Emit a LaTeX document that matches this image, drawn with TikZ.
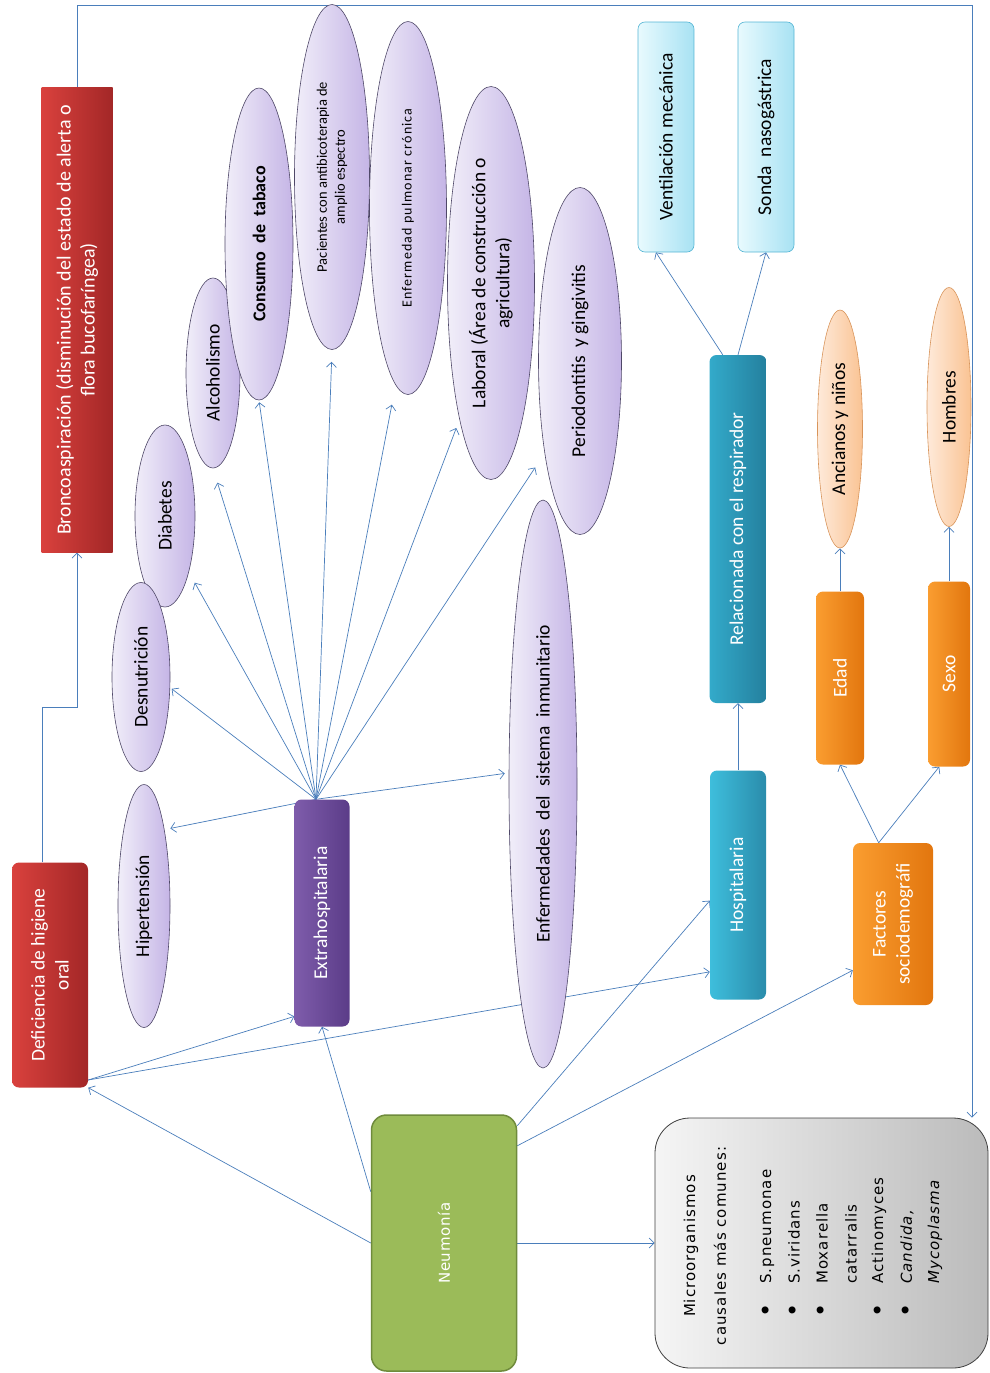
\documentclass[tikz,border=0pt]{standalone}
\usepackage{fontspec}
\setmainfont{Carlito}
\newfontfamily\verd{DejaVu Sans}
\usetikzlibrary{shapes.geometric,arrows.meta,backgrounds,calc}
\definecolor{lavL}{HTML}{F1EEF9}
\definecolor{lavR}{HTML}{C5B5E6}
\definecolor{lavB}{HTML}{4F4868}
\definecolor{redL}{HTML}{D9413D}
\definecolor{redR}{HTML}{A32727}
\definecolor{purL}{HTML}{7E5CAB}
\definecolor{purR}{HTML}{5B3C88}
\definecolor{grnF}{HTML}{9BBB59}
\definecolor{grnD}{HTML}{6F8B3C}
\definecolor{gryL}{HTML}{F5F5F5}
\definecolor{gryR}{HTML}{BBBBBB}
\definecolor{cyL}{HTML}{3EBEDC}
\definecolor{cyR}{HTML}{2A8CAB}
\definecolor{rlL}{HTML}{33AACA}
\definecolor{rlR}{HTML}{24809E}
\definecolor{lcL}{HTML}{E8FAFE}
\definecolor{lcR}{HTML}{A8E2F3}
\definecolor{lcB}{HTML}{55B5D4}
\definecolor{orL}{HTML}{FA9D30}
\definecolor{orR}{HTML}{E2760E}
\definecolor{peL}{HTML}{FEEADA}
\definecolor{peR}{HTML}{FAC393}
\definecolor{peB}{HTML}{D8945A}
\definecolor{arrC}{HTML}{4A7EBB}
\begin{document}
\begin{tikzpicture}[x=1pt,y=-1pt,
  ell/.style={ellipse, draw=lavB, line width=0.6pt, left color=lavL, right color=lavR,
    rotate=90, inner sep=0pt, align=center, text=black, font=\fontsize{19.5}{24}\selectfont},
  pell/.style={ell, draw=peB, left color=peL, right color=peR},
  box/.style={rectangle, rounded corners=7pt, rotate=90, inner sep=0pt, align=center,
    text=white, font=\fontsize{19.5}{24}\selectfont},
  redbox/.style={box, left color=redL, right color=redR},
  lcbox/.style={box, draw=lcB, line width=0.6pt, left color=lcL, right color=lcR, text=black},
  orbox/.style={box, left color=orL, right color=orR},
  arr/.style={draw=arrC, line width=0.7pt, -{Straight Barb[length=5pt,width=10pt]}},
  mtxt/.style={rotate=90, inner sep=0pt, font=\verd\fontsize{15}{18}\selectfont\addfontfeatures{LetterSpace=7}, text=black},
  bul/.style={rotate=90, inner sep=0pt, font=\verd\fontsize{24}{24}\selectfont, text=black}
]
\useasboundingbox (0,0) rectangle (990,1373);

% boxes
\node[redbox, rounded corners=0pt, minimum width=465, minimum height=71, font=\fontsize{20}{24}\selectfont] (bron) at (77,320)
  {Broncoaspiración (disminución del estado de alerta o\\flora bucofaríngea)};
\node[redbox, minimum width=225, minimum height=76] (def) at (50,975) {Deficiencia de higiene\\oral};
\node[box, left color=purL, right color=purR, minimum width=227, minimum height=55] (extra) at (322,913) {Extrahospitalaria};
\node[box, fill=grnF, draw=grnD, line width=1.5pt, rounded corners=15pt, minimum width=256, minimum height=145,
  font=\verd\fontsize{15}{18}\selectfont\addfontfeatures{LetterSpace=5}] (neu) at (444,1243) {Neumonía};
\node[box, draw=black!75, line width=0.8pt, left color=gryL, right color=gryR, rounded corners=35pt,
  minimum width=250, minimum height=333] (micro) at (821.5,1243) {};
\node[box, left color=cyL, right color=cyR, minimum width=229, minimum height=56] (hosp) at (738,885) {Hospitalaria};
\node[box, left color=rlL, right color=rlR, minimum width=348, minimum height=57] (rel) at (738,529) {Relacionada con el respirador};
\node[lcbox, minimum width=230, minimum height=56] (vent) at (666,137) {Ventilación mecánica};
\node[lcbox, minimum width=230, minimum height=56] (sonda) at (766,137) {Sonda\ \ nasogástrica};
\node[orbox, minimum width=162, minimum height=80] (fact) at (893,924) {Factores\\sociodemográfi};
\node[orbox, minimum width=173, minimum height=48] (edad) at (840,678) {Edad};
\node[orbox, minimum width=185, minimum height=42] (sexo) at (949,674) {Sexo};
\node[pell, minimum width=238, minimum height=45] (anc) at (840,429) {Ancianos y niños};
\node[pell, minimum width=239, minimum height=44] (hom) at (949,407) {Hombres};

% lavender ellipses
\node[ell, minimum width=243, minimum height=52] (hip) at (144,906) {Hipertensión};
\node[ell, minimum width=182, minimum height=60] (diab) at (165,516) {Diabetes};
\node[ell, minimum width=189, minimum height=58] (desn) at (141,677) {Desnutrición};
\node[ell, minimum width=190, minimum height=54] (alc) at (213,373) {Alcoholismo};
\node[ell, minimum width=312, minimum height=68, font=\bfseries\fontsize{18}{21}\selectfont] (cons) at (259,244) {Consumo\ \ de\ \ tabaco};
\node[ell, minimum width=345, minimum height=75, font=\fontsize{14.5}{18}\selectfont] (pac) at (332,177)
  {Pacientes con antibicoterapia de\\amplio espectro};
\node[ell, minimum width=373, minimum height=77, font=\fontsize{14}{17}\selectfont\addfontfeatures{LetterSpace=8}] (epc) at (408,208)
  {Enfermedad pulmonar crónica};
\node[ell, minimum width=393, minimum height=87] (lab) at (491,283) {Laboral (Área de construcción o\\agricultura)};
\node[ell, minimum width=347, minimum height=83] (per) at (580,361) {Periodontitis\ \ y gingivitis};
\node[ell, minimum width=568, minimum height=68] (enf) at (543,784) {Enfermedades\ \ del\ \ sistema\ \ inmunitario};

% microorganism text
\node[mtxt] (m1) at (691,1246) {Microorganismos};
\node[mtxt] (m2) at (720,1246) {causales más comunes:};
\node[bul] (b1) at (768,1310) {•};
\node[bul] (b2) at (795,1310) {•};
\node[bul] (b3) at (823,1310) {•};
\node[bul] (b4) at (880,1310) {•};
\node[bul] (b5) at (908,1310) {•};
\node[mtxt, anchor=west] (t1) at (767,1284) {S.pneumonae};
\node[mtxt, anchor=west] (t2) at (794,1284) {S.viridans};
\node[mtxt, anchor=west] (t3) at (822,1284) {Moxarella};
\node[mtxt, anchor=west] (t4) at (851,1284) {catarralis};
\node[mtxt, anchor=west] (t5) at (879,1284) {Actinomyces};
\node[mtxt, anchor=west] (t6) at (907,1284) {\itshape Candida,};
\node[mtxt, anchor=west] (t7) at (935,1284) {\itshape Mycoplasma};

\coordinate (fan) at ($(extra.east)+(-6,0)$);
\coordinate (corner) at (972,5);

\begin{pgfonlayer}{background}
\draw[arr, shorten >=6pt] (fan) -- (hip.-15);
\draw[arr, shorten >=2pt] (fan) -- (desn.-110);
\draw[arr, shorten >=12pt] (fan) -- (diab.-157);
\draw[arr, shorten >=15pt] (fan) -- (alc.west);
\draw[arr, shorten >=2pt] (fan) -- (cons.west);
\draw[arr, shorten >=12pt] (fan) -- (pac.west);
\draw[arr, shorten >=20pt] (fan) -- (epc.176);
\draw[arr, shorten >=9pt] (fan) -- (lab.167);
\draw[arr, shorten >=17pt] (fan) -- (per.159);
\draw[arr, shorten >=4pt] (fan) -- (enf.72);
\draw[arr] (neu.north) -- (def.south west);
\draw[arr] (neu.55) -- (extra.west);
\draw[arr] (def.-160) -- (extra.165);
\draw[arr] (def.-160) -- (hosp.162);
\draw[arr] (neu.-32) -- (hosp.119);
\draw[arr] (neu.-37) -- (fact.139);
\draw[arr] (neu.south) -- (micro.north);
\draw[arr] (hosp.east) -- (rel.west);
\draw[arr] (rel.5) -- (vent.175);
\draw[arr] (rel.east) -- (sonda.west);
\draw[arr] (fact.10) -- (edad.west);
\draw[arr] (fact.10) -- (sexo.174);
\draw[arr] (edad.east) -- (anc.west);
\draw[arr] (sexo.east) -- (hom.west);
\draw[arr] (def.4) -- ++(0,-155) -| (bron.west);
\draw[arr] (bron.east) |- (corner) -- (corner |- micro.east);
\end{pgfonlayer}
\end{tikzpicture}
\end{document}
